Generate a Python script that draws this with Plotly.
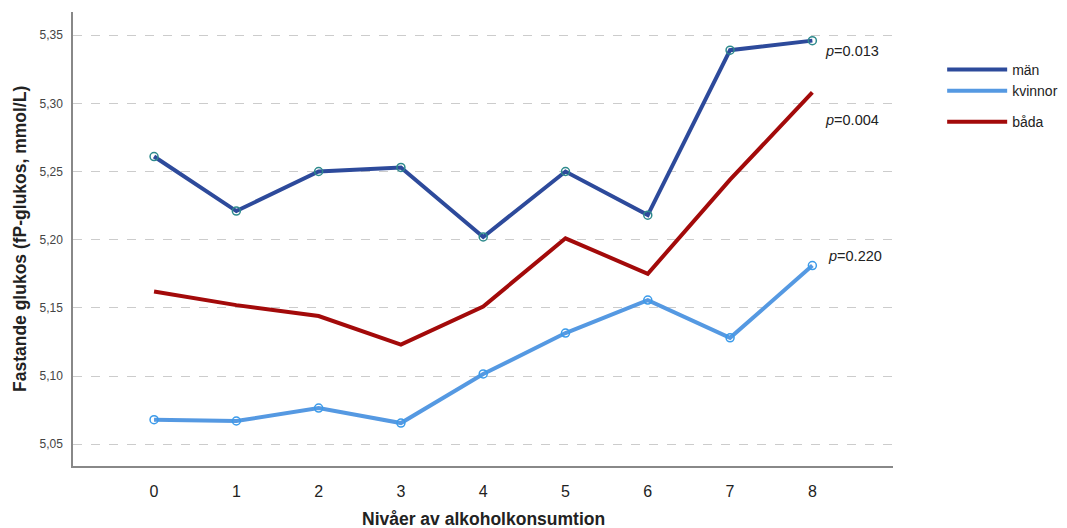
import plotly.graph_objects as go

# Alcohol consumption levels and mean fasting glucose per group
levels = [0, 1, 2, 3, 4, 5, 6, 7, 8]
man = [5.261, 5.221, 5.250, 5.253, 5.202, 5.250, 5.218, 5.339, 5.346]
kvinnor = [5.068, 5.067, 5.0765, 5.0655, 5.1015, 5.1315, 5.1557, 5.128, 5.181]
bada = [5.162, 5.152, 5.144, 5.123, 5.151, 5.201, 5.175, 5.244, 5.308]

y_ticks = [5.05, 5.10, 5.15, 5.20, 5.25, 5.30, 5.35]
p_labels = ["<i>p</i>=0.013", "<i>p</i>=0.004", "<i>p</i>=0.220"]

COL_MAN = "#2D4A9B"
COL_MAN_MK = "#2E8A8C"
COL_KV = "#5599E2"
COL_KV_MK = "#3B9BEA"
COL_BADA = "#A30A0A"

FONT = "Liberation Sans, Arial, sans-serif"

fig = go.Figure()

fig.add_trace(go.Scatter(x=levels, y=man, mode="lines", name="män",
                         line=dict(color=COL_MAN, width=4),
                         legendgroup="a"))
fig.add_trace(go.Scatter(x=levels, y=kvinnor, mode="lines", name="kvinnor",
                         line=dict(color=COL_KV, width=4),
                         legendgroup="a"))
fig.add_trace(go.Scatter(x=levels, y=bada, mode="lines", name="båda",
                         line=dict(color=COL_BADA, width=4),
                         legendgroup="b"))

# Open circle markers at each group mean
fig.add_trace(go.Scatter(x=levels, y=man, mode="markers", showlegend=False,
                         marker=dict(symbol="circle-open", size=8,
                                     color=COL_MAN_MK, line=dict(width=1.5))))
fig.add_trace(go.Scatter(x=levels, y=kvinnor, mode="markers", showlegend=False,
                         marker=dict(symbol="circle-open", size=8,
                                     color=COL_KV_MK, line=dict(width=1.5))))

# Trend p-values next to the last level
p_y = [man[-1], bada[-1], kvinnor[-1]]
p_offsets = [-10, -28, 10]
p_xshift = [11, 11, 14]
for txt, yv, dy, dx in zip(p_labels, p_y, p_offsets, p_xshift):
    fig.add_annotation(x=levels[-1], y=yv, text=txt, showarrow=False,
                       xanchor="left", yanchor="middle", xshift=dx, yshift=dy,
                       font=dict(family=FONT, size=14.5, color="#222222"))

# Axis titles
fig.add_annotation(text="<b>Nivåer av alkoholkonsumtion</b>", xref="paper", yref="paper",
                   x=0.5, y=-0.1167, xanchor="center", yanchor="middle", showarrow=False,
                   font=dict(family=FONT, size=17.5, color="#222222"))
fig.add_annotation(text="<b>Fastande glukos (fP-glukos, mmol/L)</b>", xref="paper", yref="paper",
                   x=-0.0646, y=0.5, xanchor="center", yanchor="middle", showarrow=False,
                   textangle=-90, font=dict(family=FONT, size=17.5, color="#222222"))

fig.update_layout(
    width=1067, height=528,
    margin=dict(l=73, r=174, t=12, b=62),
    paper_bgcolor="white", plot_bgcolor="white",
    separators=",.",
    font=dict(family=FONT, color="#222222"),
    legend=dict(xref="container", yref="container",
                x=0.883, y=0.898, xanchor="left", yanchor="top",
                font=dict(family=FONT, size=14, color="#222222"),
                tracegroupgap=10, itemwidth=60,
                bgcolor="rgba(0,0,0,0)"),
    xaxis=dict(range=[-0.985, 8.98], tickvals=levels, automargin=False,
               showgrid=False, zeroline=False,
               showline=True, linecolor="#888888", linewidth=1.5,
               ticks="", ticklabelstandoff=10,
               tickfont=dict(family=FONT, size=16, color="#222222")),
    yaxis=dict(range=[5.034, 5.367], tickvals=y_ticks, tickformat=".2f", automargin=False,
               showgrid=True, gridcolor="#CCCCCC", griddash="dash", gridwidth=1,
               zeroline=False, showline=True, linecolor="#888888", linewidth=1.5,
               ticks="", ticklabelstandoff=6,
               tickfont=dict(family=FONT, size=12, color="#444444")),
)

fig.write_html("out.html")
